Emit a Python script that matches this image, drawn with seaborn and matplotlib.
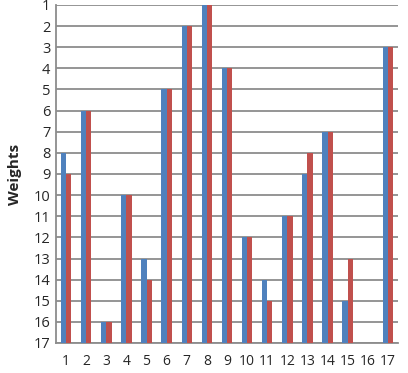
import matplotlib
matplotlib.use('Agg')
import matplotlib.pyplot as plt
import seaborn as sns
import pandas as pd

# ranks (1 = top, 17 = bottom)
items = list(range(1, 18))
blue_rank = [8, 6, 16, 10, 13, 5, 2, 1, 4, 12, 14, 11, 9, 7, 15, 17, 3]
red_rank = [9, 6, 16, 10, 14, 5, 2, 1, 4, 12, 15, 11, 8, 7, 13, 17, 3]
rank_ticks = list(range(1, 18))

n_max = max(rank_ticks)
df = pd.DataFrame({
    'item': items * 2,
    'series': ['A'] * len(items) + ['B'] * len(items),
    'rank': blue_rank + red_rank,
})
# bars grow from the bottom (rank 17) up to the rank
df['depth'] = n_max - df['rank']

sns.set_style('white')
plt.rcParams['font.family'] = ['Open Sans', 'DejaVu Sans']

fig = plt.figure(figsize=(4.08, 3.73), dpi=100)
ax = fig.add_axes([56 / 408, 1 - 343 / 373, 342 / 408, 338 / 373])

sns.barplot(data=df, x='item', y='depth', hue='series',
            palette=['#4F81BD', '#C0504D'], saturation=1, width=0.52, gap=0,
            edgecolor='none', legend=False, ax=ax, zorder=3)

ax.set_ylim(0, n_max - 1)
ax.set_xlim(-0.5, len(items) - 0.5)
ax.set_yticks([n_max - r for r in rank_ticks])
ax.set_yticklabels([str(r) for r in rank_ticks], fontsize=10.5)
ax.set_xticks(range(len(items)))
ax.set_xticklabels([str(i) for i in items], fontsize=10)
ax.tick_params(axis='x', length=0, pad=8)
ax.tick_params(axis='y', length=0, pad=4)

ax.yaxis.grid(True, color='#8c8c8c', linewidth=1.3, zorder=0)
ax.set_axisbelow(True)
for s in ['top', 'right']:
    ax.spines[s].set_visible(False)
for s in ['left', 'bottom']:
    ax.spines[s].set_color('#8c8c8c')
    ax.spines[s].set_linewidth(1.3)

ax.set_xlabel('')
ax.set_ylabel('Weights', fontsize=11, fontweight='bold', labelpad=8)

fig.savefig('out.png', dpi=100)
